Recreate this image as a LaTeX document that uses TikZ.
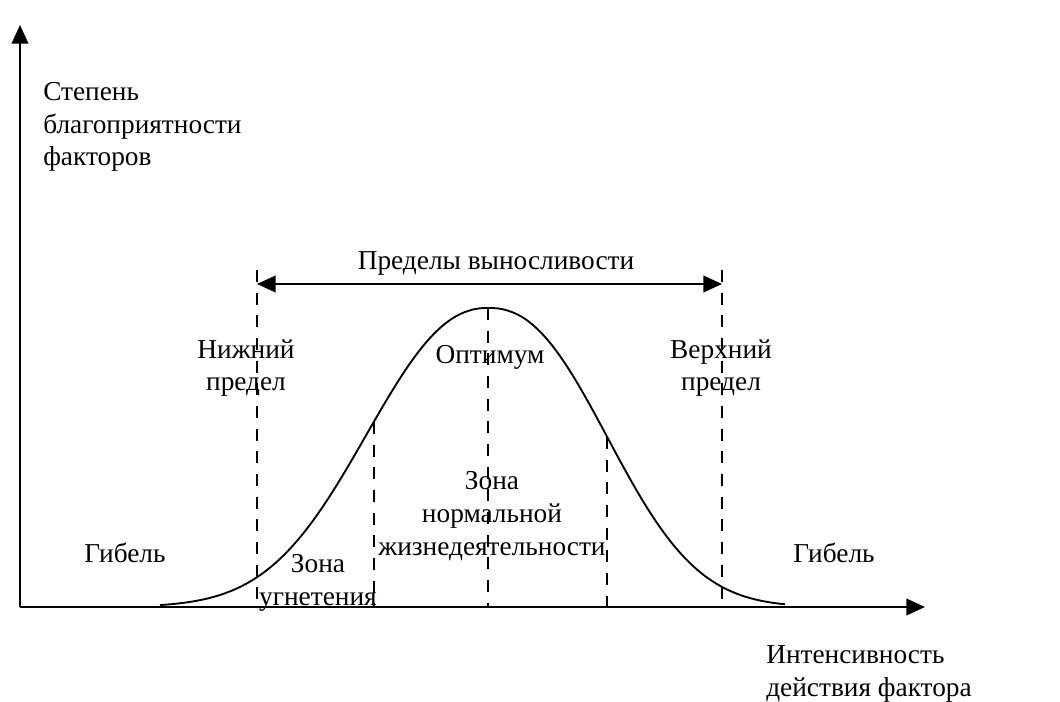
\documentclass[tikz,border=0pt]{standalone}
\usepackage{fontspec}
\setmainfont{Liberation Serif}
\usetikzlibrary{arrows.meta}
\begin{document}
\begin{tikzpicture}[x=0.75pt,y=-0.75pt,
  lbl/.style={font=\fontsize{20.5}{24.5}\selectfont, inner sep=0pt, align=center},
  axis/.style={line width=1.4pt, -{Triangle[length=14pt,width=12.5pt]}},
  limarrow/.style={line width=1.4pt, {Triangle[length=14pt,width=12.5pt]}-{Triangle[length=14pt,width=12.5pt]}},
  guide/.style={line width=1.3pt, dash pattern=on 9pt off 8pt},
  curve/.style={line width=1.4pt}]
\useasboundingbox (0,0) rectangle (1060,702);
% axes
\coordinate (O) at (20,607);
\coordinate (ytip) at (20,25);
\coordinate (xtip) at (925,607);
\draw[axis] (O) -- (ytip);
\draw[axis] (O) -- (xtip);
% guide lines
\coordinate (lowT) at (257,270);  \coordinate (lowB) at (257,607);
\coordinate (s1T) at (374,422);   \coordinate (s1B) at (374,607);
\coordinate (optT) at (488,308);  \coordinate (optB) at (488,607);
\coordinate (s2T) at (607,437);   \coordinate (s2B) at (607,607);
\coordinate (upT) at (722,270);   \coordinate (upB) at (722,607);
\draw[guide] (lowT) -- (lowB);
\draw[guide] (s1T) -- (s1B);
\draw[guide] (optT) -- (optB);
\draw[guide] (s2T) -- (s2B);
\draw[guide] (upT) -- (upB);
% endurance arrow
\coordinate (eL) at (257,284);
\coordinate (eR) at (722,284);
\draw[limarrow] (eL) -- (eR);
% curve
\draw[curve, line join=round]
  plot[domain=160:488, samples=100, variable=\t]
    (\t, {607 - 299*exp(-((abs(\t-488)+0.01)/158.8)^2.23)})
  -- plot[domain=488:785, samples=100, variable=\t]
    (\t, {607 - 299*exp(-((abs(\t-488)+0.01)/152.5)^2.32)});
% labels
\node[lbl, align=left, anchor=west] (ylab) at (43,127) {Степень\\благоприятности\\факторов};
\node[lbl] (endur) at (496,263) {Пределы выносливости};
\node[lbl] (lower) at (246,368) {Нижний\\предел};
\node[lbl] (opt) at (490,357) {Оптимум};
\node[lbl] (upper) at (721,368) {Верхний\\предел};
\node[lbl] (norm) at (492,516) {Зона\\нормальной\\жизнедеятельности};
\node[lbl] (supp) at (318,583) {Зона\\угнетения};
\node[lbl] (deathL) at (125,553) {Гибель};
\node[lbl] (deathR) at (834,553) {Гибель};
\node[lbl, align=left, anchor=west] (xlab) at (766,674) {Интенсивность\\действия фактора};
\end{tikzpicture}
\end{document}
